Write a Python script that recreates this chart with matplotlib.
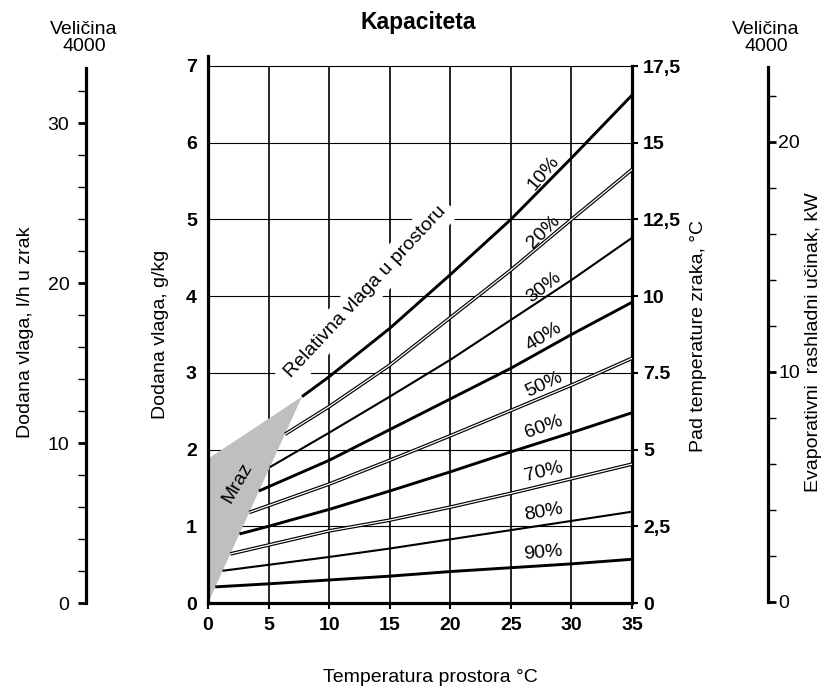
import matplotlib
matplotlib.use("Agg")
import matplotlib.pyplot as plt
from matplotlib.ticker import MultipleLocator

plt.rcParams['font.family'] = ['Liberation Sans', 'DejaVu Sans']

# temperature points for each relative humidity line (start on the frost edge)
rh_labels = ["10%", "20%", "30%", "40%", "50%", "60%", "70%", "80%", "90%"]
rh_x = [
    [7.76, 10, 15, 20, 25, 30, 35],
    [6.36, 10, 15, 20, 25, 30, 35],
    [5.1, 10, 15, 20, 25, 30, 35],
    [4.2, 10, 15, 20, 25, 30, 35],
    [3.4, 10, 15, 20, 25, 30, 35],
    [2.6, 5, 10, 15, 20, 25, 30, 35],
    [1.85, 10, 15, 20, 25, 30, 35],
    [1.2, 10, 15, 20, 25, 30, 35],
    [0.6, 5, 10, 15, 20, 25, 30, 35],
]
rh_y = [
    [2.69, 2.95, 3.58, 4.28, 5.00, 5.80, 6.62],
    [2.20, 2.56, 3.10, 3.72, 4.34, 5.00, 5.65],
    [1.77, 2.22, 2.69, 3.17, 3.69, 4.21, 4.76],
    [1.46, 1.86, 2.26, 2.66, 3.06, 3.50, 3.92],
    [1.18, 1.55, 1.86, 2.18, 2.51, 2.84, 3.19],
    [0.90, 1.00, 1.22, 1.46, 1.71, 1.97, 2.22, 2.48],
    [0.64, 0.94, 1.08, 1.25, 1.43, 1.62, 1.81],
    [0.42, 0.60, 0.71, 0.83, 0.95, 1.07, 1.19],
    [0.21, 0.25, 0.30, 0.35, 0.41, 0.46, 0.51, 0.57],
]
# line style: thick, double or medium
rh_style = ["thick", "double", "medium", "thick", "double", "thick", "double", "medium", "thick"]
# label positions and angles
lab_x = 27.7
lab_y = [5.61, 4.84, 4.12, 3.47, 2.85, 2.29, 1.71, 1.18, 0.65]
lab_rot = [50, 45, 38, 32, 25, 20, 14, 10, 5]

# frost region corners
frost_x = [0, 0, 7.76]
frost_y = [0, 1.88, 2.69]

x_ticks = [0, 5, 10, 15, 20, 25, 30, 35]
y_ticks = [0, 1, 2, 3, 4, 5, 6, 7]
right_labels = ["0", "2,5", "5", "7.5", "10", "12,5", "15", "17,5"]

fig = plt.figure(figsize=(8.3, 6.9), dpi=100)
W, H = 830, 690

ax = fig.add_axes([208 / W, 1 - 603 / H, (632 - 208) / W, (603 - 56) / H])
ax.set_xlim(0, 35)
ax.set_ylim(0, 7 * (603 - 56) / (603 - 66))

# grid
ax.vlines([5, 10, 15, 20, 25, 30], 0, 7, color="black", lw=1.2, zorder=1)
ax.hlines([1, 2, 3, 4, 5, 6, 7], 0, 35, color="black", lw=0.8, zorder=1)

ax.fill(frost_x, frost_y, color="#bfbfbf", lw=0, zorder=2)
ax.text(2.4, 1.56, "Mraz", rotation=60, ha="center", va="center",
        rotation_mode="anchor", fontsize=14, zorder=3)

for xs, ys, st in zip(rh_x, rh_y, rh_style):
    if st == "double":
        ax.plot(xs, ys, color="black", lw=2.6, zorder=4, solid_capstyle="butt")
        ax.plot(xs, ys, color="white", lw=0.9, zorder=5, solid_capstyle="butt")
    elif st == "thick":
        ax.plot(xs, ys, color="black", lw=2.1, zorder=4, solid_capstyle="butt")
    else:
        ax.plot(xs, ys, color="black", lw=1.5, zorder=4, solid_capstyle="butt")

for lab, ly, rot in zip(rh_labels, lab_y, lab_rot):
    ax.text(lab_x, ly, lab, rotation=rot, ha="center", va="center",
            rotation_mode="anchor", fontsize=14, zorder=6)

ax.text(13.0, 4.05, "Relativna vlaga u prostoru", rotation=47, ha="center", va="center",
        rotation_mode="anchor", fontsize=14, zorder=3,
        bbox=dict(facecolor="white", edgecolor="none", pad=5))

for s in ["left", "bottom", "right"]:
    ax.spines[s].set_linewidth(2.3)
ax.spines["top"].set_visible(False)
ax.spines["right"].set_bounds(0, 7)

ax.set_xticks(x_ticks)
ax.set_xticklabels([str(v) for v in x_ticks], fontsize=14, fontweight="bold")
ax.set_yticks(y_ticks)
ax.set_yticklabels([str(v) for v in y_ticks], fontsize=14, fontweight="bold")
ax.tick_params(axis="x", length=4, width=1.5, pad=6)
ax.tick_params(axis="y", length=0, pad=8)

ax2 = ax.twinx()
ax2.set_ylim(ax.get_ylim())
ax2.set_yticks(y_ticks)
ax2.set_yticklabels(right_labels, fontsize=14, fontweight="bold")
ax2.tick_params(axis="y", length=4, width=1.5, pad=4)
for s in ["left", "bottom", "top", "right"]:
    ax2.spines[s].set_visible(False)

# axis titles
fig.text(418 / W, 1 - 22 / H, "Kapaciteta", ha="center", va="center", fontsize=16.5, fontweight="bold")
fig.text(430 / W, 1 - 677 / H, "Temperatura prostora \u00b0C", ha="center", va="center", fontsize=14)
fig.text(160 / W, 1 - 334 / H, "Dodana vlaga, g/kg", ha="center", va="center", rotation=90, fontsize=14)
fig.text(698 / W, 1 - 336 / H, "Pad temperature zraka, \u00b0C", ha="center", va="center", rotation=90, fontsize=14)

# left side scale, l/h
axl = fig.add_axes([86 / W, 1 - 603 / H, 0.0001, (603 - 68) / H])
axl.set_ylim(0, (603 - 68) / 16.0)
axl.set_xticks([])
axl.yaxis.set_major_locator(MultipleLocator(10))
axl.yaxis.set_minor_locator(MultipleLocator(2))
axl.tick_params(axis="y", which="major", length=6, width=2, labelsize=14, pad=6)
axl.tick_params(axis="y", which="minor", length=6, width=1)
for s in ["right", "bottom", "top"]:
    axl.spines[s].set_visible(False)
axl.spines["left"].set_linewidth(2.3)
fig.text(25 / W, 1 - 332 / H, "Dodana vlaga, l/h u zrak", ha="center", va="center", rotation=90, fontsize=14)
fig.text(84 / W, 1 - 38 / H, "Veli\u010dina\n4000", ha="center", va="center", fontsize=14, linespacing=1.05)

# right side scale, kW
axr = fig.add_axes([768 / W, 1 - 602 / H, 0.0001, (602 - 67) / H])
axr.set_ylim(0, (602 - 67) / 23.0)
axr.set_xticks([])
axr.yaxis.tick_right()
axr.yaxis.set_major_locator(MultipleLocator(10))
axr.yaxis.set_minor_locator(MultipleLocator(2))
axr.tick_params(axis="y", which="major", length=6, width=2, labelsize=14, pad=1.5)
axr.tick_params(axis="y", which="minor", length=6, width=1)
for s in ["left", "bottom", "top"]:
    axr.spines[s].set_visible(False)
axr.spines["right"].set_linewidth(2.3)
fig.text(813 / W, 1 - 342 / H, "Evaporativni  rashladni u\u010dinak, kW", ha="center", va="center", rotation=90, fontsize=14)
fig.text(766 / W, 1 - 38 / H, "Veli\u010dina\n4000", ha="center", va="center", fontsize=14, linespacing=1.05)

fig.savefig("out.png", dpi=100)
